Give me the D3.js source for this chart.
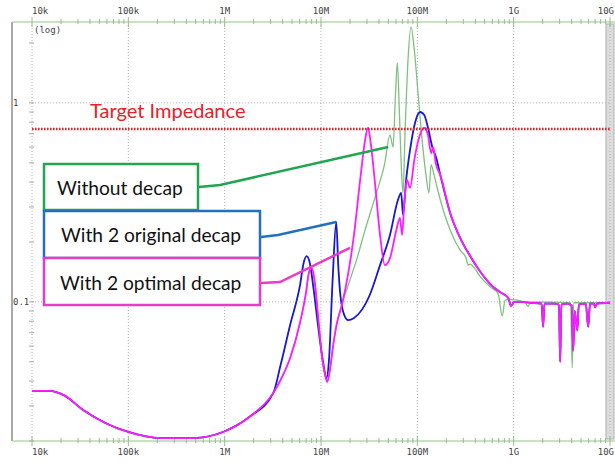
<!DOCTYPE html>
<html>
<head>
<meta charset="utf-8">
<script src="https://cdn.jsdelivr.net/npm/d3@7"></script>
<style>
  body { margin: 0; background: #fff; }
  svg { display: block; }
</style>
</head>
<body>
<script>
// axis ticks
var freqTicks = [1e4, 1e5, 1e6, 1e7, 1e8, 1e9, 1e10];
var freqLabels = ["10k", "100k", "1M", "10M", "100M", "1G", "10G"];
var zTicks = [0.1, 1];
var zLabels = ["0.1", "1"];
var targetZ = 0.74;

var legendLabels = ["Without decap", "With 2 original decap", "With 2 optimal decap"];

// shared low band (all three curves sit on top of each other here)
var lowBand = [[1e4, 0.0357], [1.5e4, 0.0357], [2.2e4, 0.0337], [3.4e4, 0.0286], [5.7e4, 0.0247],
  [1e5, 0.0222], [2.15e5, 0.0207], [4.7e5, 0.0207], [9.6e5, 0.0222], [1.8e6, 0.0264], [3.2e6, 0.0349]];

// without decap (green)
var noDecapMid = [[3.8e6, 0.0405], [4.78e6, 0.0523], [6.07e6, 0.079], [7.0e6, 0.112], [7.5e6, 0.141],
  [8.0e6, 0.148], [8.5e6, 0.132], [9.3e6, 0.086], [10.2e6, 0.0542], [11.0e6, 0.0432], [11.6e6, 0.0396],
  [12.3e6, 0.0446], [13.4e6, 0.0608], [14.5e6, 0.0766], [16.6e6, 0.098],
  [20e6, 0.129], [23.7e6, 0.166], [28.7e6, 0.23], [36.5e6, 0.337], [46e6, 0.50], [52e6, 0.69], [56e6, 0.60],
  [59e6, 1.04], [62e6, 1.59], [65e6, 0.92], [68e6, 0.49], [71e6, 0.353], [74.7e6, 0.73], [80e6, 1.64],
  [86e6, 2.41], [93e6, 1.85], [102e6, 1.10], [112e6, 0.652], [123e6, 0.435], [132e6, 0.353], [139e6, 0.49],
  [149e6, 0.435], [173e6, 0.326], [219e6, 0.23], [278e6, 0.182], [321e6, 0.166], [337e6, 0.153],
  [353e6, 0.155], [449e6, 0.134], [570e6, 0.119], [690e6, 0.11], [760e6, 0.085], [816e6, 0.102],
  [920e6, 0.103], [1.3e9, 0.1], [1.41e9, 0.095], [1.5e9, 0.1], [3.9e9, 0.099], [4.05e9, 0.0466],
  [4.2e9, 0.099], [1e10, 0.099]];

// with 2 original decap (blue)
var origDecapMid = [[3.8e6, 0.048], [4.78e6, 0.0766], [6.07e6, 0.122], [6.6e6, 0.157], [7.1e6, 0.170],
  [7.6e6, 0.159], [8.4e6, 0.115], [9.3e6, 0.0766], [10.5e6, 0.0499], [11.4e6, 0.0415], [12.1e6, 0.051],
  [13.2e6, 0.129], [14.4e6, 0.252], [15.1e6, 0.153], [15.8e6, 0.111], [17.4e6, 0.086], [19.1e6, 0.081],
  [22e6, 0.083], [32e6, 0.108], [41e6, 0.153], [52e6, 0.217], [63e6, 0.326], [68e6, 0.353], [71e6, 0.274],
  [76.5e6, 0.41], [84e6, 0.58], [95e6, 0.80], [107e6, 0.90], [118e6, 0.87], [129e6, 0.75], [143e6, 0.60],
  [157e6, 0.53]];

// with 2 optimal decap (magenta)
var optDecapMid = [[3.8e6, 0.0405], [4.78e6, 0.0523], [6.07e6, 0.079], [7.0e6, 0.112], [7.5e6, 0.141],
  [8.0e6, 0.148], [8.5e6, 0.132], [9.3e6, 0.086], [10.2e6, 0.0542], [11.0e6, 0.0432], [11.6e6, 0.0396],
  [12.3e6, 0.0446], [13.4e6, 0.0608], [14.5e6, 0.0766], [16.6e6, 0.098],
  [19.1e6, 0.138], [22e6, 0.217], [25.5e6, 0.41], [28.7e6, 0.652], [30.8e6, 0.75], [33e6, 0.615],
  [36.5e6, 0.387], [41e6, 0.217], [46e6, 0.153], [52e6, 0.166], [60e6, 0.225], [66e6, 0.264],
  [69.5e6, 0.217], [73e6, 0.307], [78e6, 0.41], [84e6, 0.374], [93e6, 0.517], [104e6, 0.667],
  [118e6, 0.75], [129e6, 0.69], [139e6, 0.56], [146e6, 0.60], [155e6, 0.50]];

// high band shared by the two decap curves
var decapTail = [[173e6, 0.435], [219e6, 0.28], [278e6, 0.21], [353e6, 0.17], [449e6, 0.142],
  [570e6, 0.123], [724e6, 0.112], [877e6, 0.105], [940e6, 0.0955], [1.01e9, 0.1], [1.17e9, 0.1],
  [1.5e9, 0.099], [1.95e9, 0.098], [2.02e9, 0.075], [2.09e9, 0.098], [2.6e9, 0.098], [2.95e9, 0.097],
  [3.04e9, 0.05], [3.13e9, 0.097], [3.6e9, 0.098], [4.0e9, 0.096], [4.15e9, 0.057], [4.3e9, 0.09],
  [4.57e9, 0.072], [4.75e9, 0.097], [5.6e9, 0.098], [5.94e9, 0.075], [6.2e9, 0.098], [6.8e9, 0.098],
  [7.0e9, 0.094], [7.3e9, 0.098], [1e10, 0.099]];

// leader line targets (freq, ohm)
var leaderTargets = [[49.8e6, 0.60], [14.4e6, 0.252], [20e6, 0.187]];

var W = 615, H = 465;
var pLeft = 32, pRight = 610, pTop = 22, pBottom = 441;

var svg = d3.select("body").append("svg").attr("width", W).attr("height", H)
  .style("font-family", "DejaVu Sans Mono");

var x = d3.scaleLog().domain([1e4, 1e10]).range([pLeft, pRight]);
var y = d3.scaleLog().domain([0.02, 2.55]).range([pBottom, pTop]);

// frame
svg.append("line").attr("x1", 12).attr("x2", 12).attr("y1", pTop).attr("y2", pBottom)
  .attr("stroke", "#a9a9a9").attr("stroke-width", 2);
svg.append("rect").attr("x", 606).attr("y", pTop + 2).attr("width", 8).attr("height", pBottom - pTop - 4)
  .attr("fill", "#dcdcdc").attr("stroke", "#b0b0b0");

// gridlines
svg.selectAll(".vgrid").data(freqTicks).enter().append("line")
  .attr("x1", function(d){ return x(d); }).attr("x2", function(d){ return x(d); })
  .attr("y1", pTop).attr("y2", pBottom)
  .attr("stroke", "#b4b4b4").attr("stroke-dasharray", "1,2");
svg.selectAll(".hgrid").data(zTicks).enter().append("line")
  .attr("x1", pLeft).attr("x2", pRight)
  .attr("y1", function(d){ return y(d); }).attr("y2", function(d){ return y(d); })
  .attr("stroke", "#b4b4b4").attr("stroke-dasharray", "1,2");

// top and bottom axes
[pTop, pBottom].forEach(function(ay){
  svg.append("line").attr("x1", 12).attr("x2", W).attr("y1", ay).attr("y2", ay)
    .attr("stroke", "#b8d8b0").attr("stroke-width", 1.5);
  svg.selectAll(null).data(x.ticks()).enter().append("line")
    .attr("x1", function(d){ return x(d); }).attr("x2", function(d){ return x(d); })
    .attr("y1", function(d){ return freqTicks.indexOf(d) >= 0 ? ay - 5 : ay - 3; })
    .attr("y2", function(d){ return freqTicks.indexOf(d) >= 0 ? ay + 5 : ay + 2; })
    .attr("stroke", "#9cb894");
});

// left minor ticks
svg.selectAll(".ytick").data(y.ticks()).enter().append("line")
  .attr("x1", pLeft - 3).attr("x2", pLeft + 2)
  .attr("y1", function(d){ return y(d); }).attr("y2", function(d){ return y(d); })
  .attr("stroke", "#aaaaaa");

// tick labels
[14, 455].forEach(function(ly){
  svg.selectAll(null).data(freqTicks).enter().append("text")
    .attr("x", function(d, i){ return i === freqTicks.length - 1 ? W - 1 : x(d); })
    .attr("y", ly)
    .attr("text-anchor", function(d, i){ return i === 0 ? "start" : (i === freqTicks.length - 1 ? "end" : "middle"); })
    .attr("font-size", 9).attr("fill", "#444")
    .text(function(d, i){ return freqLabels[i]; });
});
svg.selectAll(".ylab").data(zTicks).enter().append("text")
  .attr("x", 13).attr("y", function(d){ return y(d) + 3; })
  .attr("font-size", 9).attr("fill", "#444")
  .text(function(d, i){ return zLabels[i]; });
svg.append("text").attr("x", 34).attr("y", 33).attr("font-size", 9).attr("fill", "#444").text("(log)");

// curves
var line = d3.line()
  .x(function(d){ return x(d[0]); })
  .y(function(d){ return y(d[1]); })
  .curve(d3.curveMonotoneX);

var series = [
  { data: lowBand.concat(noDecapMid), color: "#80c080", width: 1.3 },
  { data: lowBand.concat(origDecapMid, decapTail), color: "#1818d0", width: 1.8 },
  { data: lowBand.concat(optDecapMid, decapTail), color: "#ff1cff", width: 1.8 }
];
svg.selectAll(".curve").data(series).enter().append("path")
  .attr("d", function(d){ return line(d.data); })
  .attr("fill", "none")
  .attr("stroke", function(d){ return d.color; })
  .attr("stroke-width", function(d){ return d.width; });

// target impedance
svg.append("line").attr("x1", pLeft).attr("x2", pRight)
  .attr("y1", y(targetZ)).attr("y2", y(targetZ))
  .attr("stroke", "#e8202a").attr("stroke-width", 2.5).attr("stroke-dasharray", "1.6,1.4");
svg.append("text").attr("x", 90).attr("y", 118)
  .attr("font-family", "Lato").attr("font-size", 20).attr("fill", "#e8202a")
  .text("Target Impedance");

// legend boxes with leader lines
var boxColors = ["#22a550", "#2470bf", "#e83cc4"];
var boxes = [
  { x: 44, y: 164, w: 154, h: 46, tx: 57, ty: 195, elbow: [[199, 187], [220, 185]] },
  { x: 44, y: 211, w: 216, h: 47, tx: 61, ty: 242, elbow: [[261, 237], [278, 235]] },
  { x: 44, y: 258, w: 216, h: 47, tx: 60, ty: 290, elbow: [[261, 283], [280, 282]] }
];
boxes.forEach(function(b, i){
  var pts = b.elbow.concat([[x(leaderTargets[i][0]), y(leaderTargets[i][1])]]);
  svg.append("path").attr("d", d3.line()(pts)).attr("fill", "none")
    .attr("stroke", boxColors[i]).attr("stroke-width", 2.5);
  svg.append("rect").attr("x", b.x).attr("y", b.y).attr("width", b.w).attr("height", b.h)
    .attr("fill", "#fff").attr("stroke", boxColors[i]).attr("stroke-width", 2.5);
  svg.append("text").attr("x", b.tx).attr("y", b.ty)
    .attr("font-family", "Lato").attr("font-size", 19.2).attr("fill", "#111")
    .text(legendLabels[i]);
});
</script>
</body>
</html>
